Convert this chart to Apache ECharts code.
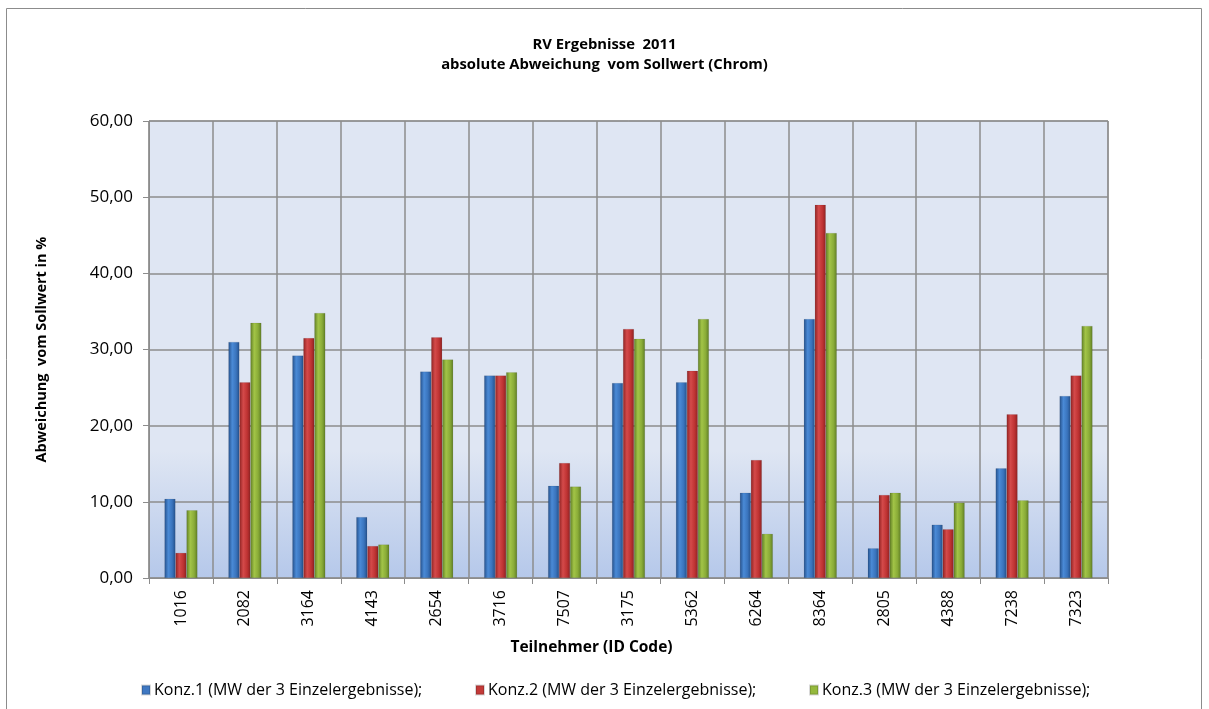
<!DOCTYPE html>
<html><head><meta charset="utf-8">
<script src="https://cdn.jsdelivr.net/npm/echarts@6/dist/echarts.min.js"></script>
<style>html,body{margin:0;padding:0;background:#fff}#c{width:1209px;height:709px}</style>
</head><body><div id="c"></div>
<script>
const categories = ['1016','2082','3164','4143','2654','3716','7507','3175','5362','6264','8364','2805','4388','7238','7323'];
const konz1 = [10.4, 31.0, 29.2, 8.0, 27.1, 26.6, 12.1, 25.6, 25.7, 11.2, 34.0, 3.9, 7.0, 14.4, 23.9];
const konz2 = [3.3, 25.7, 31.5, 4.2, 31.6, 26.6, 15.1, 32.7, 27.2, 15.5, 49.0, 10.9, 6.4, 21.5, 26.6];
const konz3 = [8.9, 33.5, 34.8, 4.4, 28.7, 27.0, 12.0, 31.4, 34.0, 5.8, 45.3, 11.2, 9.9, 10.2, 33.1];
const seriesNames = ['Konz.1 (MW der 3 Einzelergebnisse);','Konz.2 (MW der 3 Einzelergebnisse);','Konz.3 (MW der 3 Einzelergebnisse);'];
const FONT = '"Open Sans", "Liberation Sans", sans-serif';
function grad(dark, mid, light){
  return {type:'linear',x:0,y:0,x2:1,y2:0,colorStops:[
    {offset:0,color:dark},{offset:0.35,color:light},{offset:0.7,color:mid},{offset:1,color:dark}]};
}
const colors = [grad('#25508a','#3a74bd','#4a8ad6'), grad('#8e2222','#bf3333','#d44a4a'), grad('#5f7d25','#8aac38','#a2c447')];
const solid = ['#3f78c2','#c33a38','#95b93d'];
const legendLeft = [136, 470, 804];
const chart = echarts.init(document.getElementById('c'));
function mk(i, data){
  return {name:seriesNames[i], type:'bar', data:data, barWidth:11, barGap:'0%',
    itemStyle:{color:colors[i], borderColor:'rgba(0,0,0,0.15)', borderWidth:0.5}};
}
chart.setOption({
  animation:false,
  textStyle:{fontFamily:FONT},
  graphic:[{type:'rect', shape:{x:6.5,y:8.5,width:1195,height:720}, style:{fill:'none',stroke:'#8c8c8c',lineWidth:1}, z:-10}],
  title:{text:'RV Ergebnisse  2011\nabsolute Abweichung  vom Sollwert (Chrom)', left:'center', top:30,
    textStyle:{fontSize:14.8, fontWeight:'bold', color:'#000', fontFamily:FONT, lineHeight:20}},
  legend: seriesNames.map((n,i)=>({top:677, left:legendLeft[i], itemWidth:8, itemHeight:9, icon:'rect', itemGap:0,
    textStyle:{fontSize:16, color:'#000', fontFamily:FONT, padding:[0,0,0,-1]},
    data:[{name:n, itemStyle:{color:solid[i]}}]})),
  grid:{left:149, right:101, top:121, bottom:131,
    backgroundColor:{type:'linear',x:0,y:0,x2:0,y2:1,colorStops:[
      {offset:0,color:'#dfe6f3'},{offset:0.72,color:'#dfe6f3'},{offset:1,color:'#b5c8ea'}]},
    show:true, borderColor:'#8c8c8c', borderWidth:1},
  xAxis:{type:'category', data:categories,
    name:'Teilnehmer (ID Code)', nameLocation:'middle', nameGap:62,
    nameTextStyle:{fontSize:15.5, fontWeight:'bold', color:'#000', fontFamily:FONT, padding:[0,74,0,0]},
    axisLine:{lineStyle:{color:'#8c8c8c'}},
    axisTick:{show:true, length:6, lineStyle:{color:'#8c8c8c'}},
    splitLine:{show:true, lineStyle:{color:'#8c8c8c', width:1.5}},
    axisLabel:{rotate:90, fontSize:16, color:'#000', margin:12, fontFamily:FONT}},
  yAxis:{type:'value', min:0, max:60, interval:10,
    name:'Abweichung  vom Sollwert in %', nameLocation:'middle', nameGap:100, nameRotate:90,
    nameTextStyle:{fontSize:14.5, fontWeight:'bold', color:'#000', fontFamily:FONT},
    axisLine:{show:true, lineStyle:{color:'#8c8c8c'}},
    axisTick:{show:true, length:6, lineStyle:{color:'#8c8c8c'}},
    splitLine:{show:true, lineStyle:{color:'#8c8c8c', width:1.5}},
    axisLabel:{fontSize:17, color:'#000', margin:16, fontFamily:FONT, formatter:v=>v.toFixed(2).replace('.',',')}},
  series:[mk(0,konz1), mk(1,konz2), mk(2,konz3)]
});
</script></body></html>
